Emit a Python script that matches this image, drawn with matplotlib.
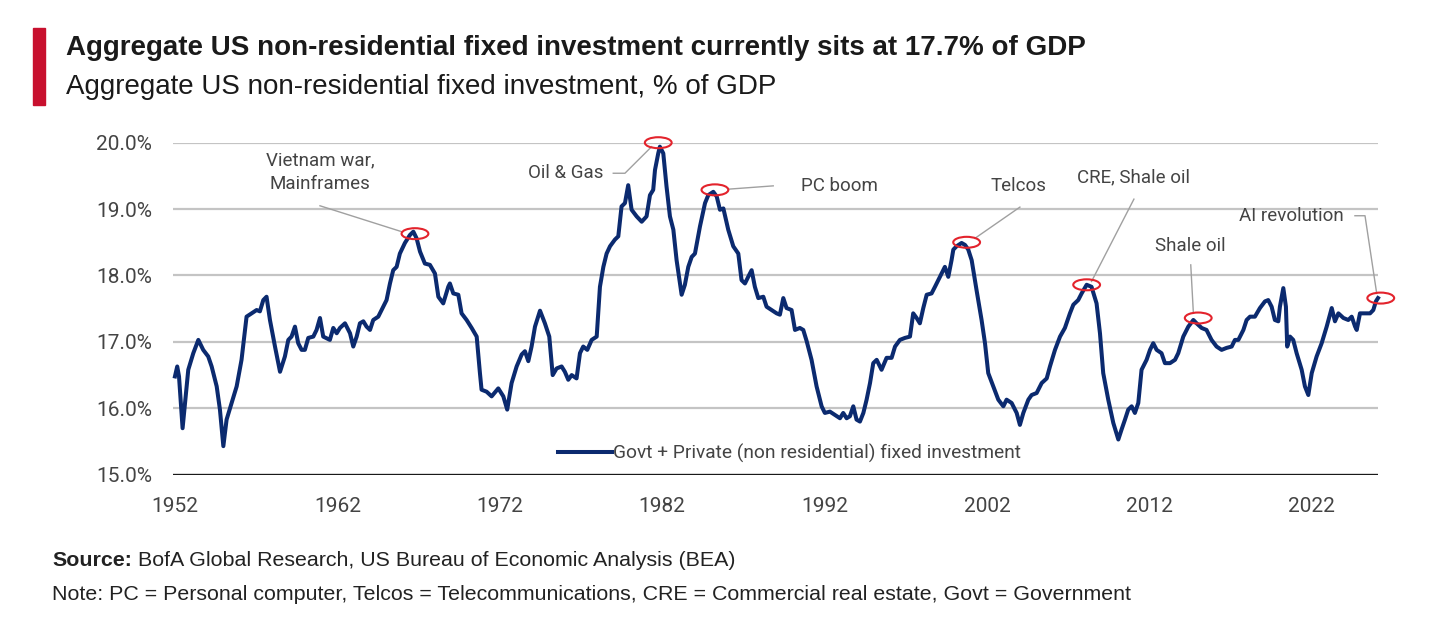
import matplotlib
matplotlib.use("Agg")
import matplotlib.pyplot as plt
from matplotlib.patches import Ellipse, Rectangle

# quarterly-ish readings: year, % of GDP
years = [1952.0, 1952.14, 1952.25, 1952.47, 1952.82, 1953.13, 1953.44, 1953.74, 1954.05, 1954.26,
         1954.57, 1954.77, 1954.98, 1955.18, 1955.49, 1955.80, 1956.10, 1956.41, 1956.72, 1957.03,
         1957.23, 1957.44, 1957.64, 1957.85, 1958.16, 1958.47, 1958.77, 1958.98, 1959.18, 1959.39,
         1959.59, 1959.80, 1960.0, 1960.21, 1960.52, 1960.72, 1960.93, 1961.13, 1961.54, 1961.75,
         1961.96, 1962.16, 1962.47, 1962.78, 1962.98, 1963.19, 1963.39, 1963.60, 1963.80, 1964.01,
         1964.21, 1964.52, 1964.83, 1965.03, 1965.24, 1965.44, 1965.65, 1965.85, 1966.16, 1966.47,
         1966.68, 1966.88, 1967.09, 1967.39, 1967.70, 1968.01, 1968.22, 1968.52, 1968.83, 1968.93,
         1969.14, 1969.45, 1969.65, 1969.96, 1970.27, 1970.58, 1970.78, 1970.88, 1971.19, 1971.50,
         1971.91, 1972.22, 1972.46,
         1972.73, 1973.04, 1973.35, 1973.55, 1973.76, 1973.96, 1974.17, 1974.48, 1974.78, 1975.05,
         1975.26, 1975.50, 1975.81, 1976.01, 1976.22, 1976.43, 1976.73, 1976.94, 1977.14, 1977.39,
         1977.66, 1977.97, 1978.17, 1978.38, 1978.58, 1978.79, 1979.09, 1979.30, 1979.50, 1979.71,
         1979.91, 1980.12, 1980.43, 1980.74, 1981.04, 1981.25, 1981.45, 1981.56, 1981.76, 1981.86,
         1982.07, 1982.27, 1982.48, 1982.69, 1982.89, 1983.20, 1983.40, 1983.61, 1983.82, 1984.02,
         1984.33, 1984.64, 1984.84, 1985.15, 1985.36, 1985.56, 1985.77, 1986.07, 1986.38, 1986.69,
         1986.89, 1987.10, 1987.30, 1987.51, 1987.71, 1987.92, 1988.23, 1988.43, 1988.74, 1989.05,
         1989.25, 1989.46, 1989.66, 1989.97, 1990.18, 1990.48, 1990.69, 1990.90, 1991.20, 1991.51,
         1991.82, 1992.02, 1992.33, 1992.64, 1992.95, 1993.15, 1993.36, 1993.56, 1993.77, 1993.97,
         1994.18, 1994.39, 1994.59, 1994.80, 1995.00, 1995.21, 1995.51, 1995.82, 1996.13, 1996.34,
         1996.64, 1996.95, 1997.26, 1997.46, 1997.67, 1997.87, 1998.08, 1998.29, 1998.59, 1998.80,
         1999.21, 1999.41, 1999.62, 1999.82, 1999.93, 2000.13, 2000.44, 2000.65, 2000.85, 2001.06,
         2001.36, 2001.67, 2001.88, 2002.08, 2002.39, 2002.70, 2003.01, 2003.21, 2003.52, 2003.83,
         2004.03, 2004.24, 2004.55, 2004.75, 2005.06, 2005.37, 2005.68, 2005.88, 2006.19, 2006.50,
         2006.80, 2007.11, 2007.32, 2007.62, 2007.83, 2008.14, 2008.44, 2008.75, 2008.96, 2009.16,
         2009.47, 2009.78, 2010.09, 2010.29, 2010.50, 2010.70, 2010.91, 2011.11, 2011.32, 2011.52,
         2011.83, 2012.04, 2012.24, 2012.45, 2012.75, 2012.96, 2013.27, 2013.58, 2013.78, 2014.09,
         2014.40, 2014.71, 2014.91, 2015.22, 2015.52, 2015.83, 2016.14, 2016.45, 2016.76, 2017.07,
         2017.27, 2017.48, 2017.79, 2017.99, 2018.20, 2018.50, 2018.81, 2019.12, 2019.32, 2019.53,
         2019.73, 2019.94, 2020.04, 2020.25, 2020.41, 2020.49, 2020.66, 2020.86, 2021.07, 2021.38,
         2021.58, 2021.79, 2022.00, 2022.30, 2022.61, 2022.92, 2023.23, 2023.43, 2023.64, 2023.95,
         2024.25, 2024.46, 2024.67, 2024.77, 2024.97, 2025.28, 2025.59, 2025.79, 2025.95, 2026.08]

invest = [16.48, 16.63, 16.48, 15.70, 16.58, 16.83, 17.03, 16.88, 16.78, 16.63,
          16.33, 15.98, 15.43, 15.83, 16.08, 16.33, 16.73, 17.38, 17.43, 17.48,
          17.46, 17.63, 17.68, 17.33, 16.93, 16.55, 16.78, 17.03, 17.08, 17.23,
          16.98, 16.88, 16.88, 17.06, 17.08, 17.18, 17.36, 17.08, 17.03, 17.21,
          17.13, 17.21, 17.28, 17.13, 16.93, 17.08, 17.28, 17.31, 17.23, 17.18,
          17.33, 17.38, 17.53, 17.63, 17.88, 18.08, 18.13, 18.33, 18.49, 18.61,
          18.66, 18.56, 18.36, 18.18, 18.16, 18.03, 17.68, 17.58, 17.83, 17.88,
          17.73, 17.71, 17.43, 17.33, 17.21, 17.08, 16.53, 16.28, 16.25, 16.18,
          16.30, 16.18, 15.98,
          16.38, 16.63, 16.81, 16.86, 16.71, 16.93, 17.23, 17.47, 17.28, 17.08,
          16.50, 16.60, 16.63, 16.55, 16.43, 16.50, 16.45, 16.83, 16.93, 16.88,
          17.03, 17.08, 17.83, 18.13, 18.33, 18.44, 18.54, 18.59, 19.04, 19.09,
          19.36, 18.99, 18.89, 18.81, 18.89, 19.21, 19.29, 19.59, 19.84, 19.94,
          19.84, 19.34, 18.89, 18.69, 18.23, 17.71, 17.86, 18.13, 18.28, 18.33,
          18.74, 19.09, 19.21, 19.26, 19.19, 18.99, 19.01, 18.69, 18.44, 18.33,
          17.93, 17.88, 17.98, 18.08, 17.83, 17.66, 17.68, 17.53, 17.48, 17.43,
          17.41, 17.66, 17.51, 17.48, 17.18, 17.21, 17.18, 17.01, 16.73, 16.33,
          16.03, 15.93, 15.95, 15.90, 15.85, 15.93, 15.85, 15.88, 16.03, 15.83,
          15.80, 15.93, 16.13, 16.38, 16.68, 16.73, 16.58, 16.76, 16.76, 16.93,
          17.03, 17.06, 17.08, 17.43, 17.36, 17.28, 17.51, 17.71, 17.73, 17.83,
          18.03, 18.13, 17.98, 18.23, 18.39, 18.44, 18.49, 18.46, 18.39, 18.23,
          17.78, 17.33, 16.98, 16.53, 16.33, 16.13, 16.03, 16.13, 16.08, 15.93,
          15.75, 15.93, 16.13, 16.20, 16.23, 16.38, 16.45, 16.63, 16.88, 17.08,
          17.21, 17.43, 17.56, 17.63, 17.73, 17.86, 17.83, 17.58, 17.13, 16.53,
          16.13, 15.78, 15.53, 15.68, 15.83, 15.98, 16.03, 15.93, 16.08, 16.58,
          16.73, 16.88, 16.98, 16.88, 16.83, 16.68, 16.68, 16.73, 16.83, 17.08,
          17.23, 17.33, 17.28, 17.21, 17.18, 17.03, 16.93, 16.88, 16.91, 16.93,
          17.03, 17.03, 17.18, 17.33, 17.38, 17.38, 17.51, 17.61, 17.63, 17.53,
          17.33, 17.31, 17.53, 17.81, 17.53, 16.93, 17.08, 17.03, 16.83, 16.58,
          16.33, 16.20, 16.53, 16.78, 16.98, 17.23, 17.51, 17.31, 17.43, 17.36,
          17.33, 17.38, 17.23, 17.18, 17.43, 17.43, 17.43, 17.48, 17.61, 17.66]

# annotations: label, circle centre, label centre, leader path
ann_labels = ["Vietnam war,\nMainframes", "Oil & Gas", "PC boom", "Telcos",
              "CRE, Shale oil", "Shale oil", "AI revolution"]
ann_points = [(1966.78, 18.63), (1981.76, 20.0), (1985.25, 19.29), (2000.75, 18.50),
              (2008.14, 17.86), (2015.01, 17.36), (2026.25, 17.66)]
ann_text_xy = [(1960.93, 19.55), (1976.06, 19.54), (1992.89, 19.35), (2003.97, 19.35),
               (2011.05, 19.48), (2014.5, 18.45), (2020.76, 18.90)]
ann_leaders = [[(1960.93, 19.05), (1965.96, 18.66)],
               [(1978.99, 19.54), (1979.71, 19.54), (1981.35, 19.94)],
               [(1988.84, 19.35), (1986.07, 19.30)],
               [(2004.03, 19.03), (2001.26, 18.56)],
               [(2011.05, 19.15), (2008.44, 17.91)],
               [(2014.55, 18.16), (2014.71, 17.44)],
               [(2024.66, 18.90), (2025.28, 18.90), (2026.0, 17.73)]]

x_ticks = [1952, 1962, 1972, 1982, 1992, 2002, 2012, 2022]
y_ticks = [15.0, 16.0, 17.0, 18.0, 19.0, 20.0]

navy = "#0b2a6f"
narrow = ["Roboto", "DejaVu Sans"]
plt.rcParams['font.family'] = ["Liberation Sans", "DejaVu Sans"]

fig = plt.figure(figsize=(14.39, 6.19), dpi=100)
ax = fig.add_axes([173/1439, 1 - 474.7/619, 1205/1439, 332/619])

for yv in y_ticks[1:]:
    ax.axhline(yv, color="#c4c4c4", lw=1.6, zorder=1)
ax.axhline(15.0, color="#1a1a1a", lw=2.4, zorder=2)

ax.plot(years, invest, color=navy, lw=2.9, solid_joinstyle="round", zorder=3,
        label="Govt + Private (non residential) fixed investment", clip_on=False)

for lab, pt, txy, path in zip(ann_labels, ann_points, ann_text_xy, ann_leaders):
    ax.add_patch(Ellipse(pt, 1.65, 0.165, fill=False, edgecolor="#e3232c", lw=1.5,
                         zorder=4, clip_on=False))
    ax.plot([p[0] for p in path], [p[1] for p in path], color="#a0a0a0", lw=1.0,
            zorder=2, clip_on=False)
    ax.text(txy[0], txy[1], lab, ha="center", va="center", fontsize=13.5,
            color="#444444", family=narrow, linespacing=1.4)

ax.set_xlim(1951.88, 2026.08)
ax.set_ylim(15.0, 20.0)
ax.set_xticks(x_ticks)
ax.set_xticklabels([str(t) for t in x_ticks])
ax.set_yticks(y_ticks)
ax.set_yticklabels([f"{v:.1f}%" for v in y_ticks])
ax.tick_params(length=0, labelsize=15, labelcolor="#444444")
ax.tick_params(axis="x", pad=16)
ax.tick_params(axis="y", pad=15)
for lbl in ax.get_xticklabels() + ax.get_yticklabels():
    lbl.set_family(["Roboto", "DejaVu Sans"])
for s in ax.spines.values():
    s.set_visible(False)

leg = ax.legend(loc="center", bbox_to_anchor=(0.5116, 0.065), frameon=False,
                handlelength=2.8, handletextpad=0.05, borderaxespad=0,
                prop={"family": narrow, "size": 13.8})
for t in leg.get_texts():
    t.set_color("#444444")

# header
fig.add_artist(Rectangle((33/1439, 1 - 105/619), 12/1439, 77/619,
                         transform=fig.transFigure, color="#c8102e"))
fig.text(66/1439, 1 - 48/619, "Aggregate US non-residential fixed investment currently sits at 17.7% of GDP",
         fontsize=20, fontweight="bold", color="#1a1a1a", va="center")
fig.text(66/1439, 1 - 87/619, "Aggregate US non-residential fixed investment, % of GDP",
         fontsize=20, color="#1a1a1a", va="center")

# footer
src = fig.text(52/1439, 1 - 561/619, "Source:", fontsize=15.4, fontweight="bold",
               color="#222222", va="center")
plt.annotate(" BofA Global Research, US Bureau of Economic Analysis (BEA)", xy=(1, 0),
             xycoords=src, fontsize=15.4, color="#222222", va="bottom", ha="left")
fig.text(52/1439, 1 - 595/619,
         "Note: PC = Personal computer, Telcos = Telecommunications, CRE = Commercial real estate, Govt = Government",
         fontsize=15.4, color="#222222", va="center")

fig.savefig("out.png", dpi=100)
